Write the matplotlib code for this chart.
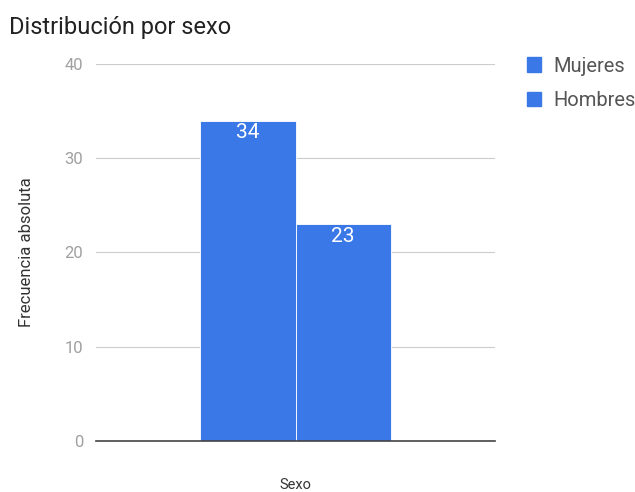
import matplotlib
matplotlib.use("Agg")
import matplotlib.pyplot as plt
from matplotlib.patches import Patch

categories = ["Mujeres", "Hombres"]
counts = [34, 23]
yticks = [0, 10, 20, 30, 40]

blue = "#3b78e7"
plt.rcParams['font.family'] = ['Roboto', 'DejaVu Sans']

fig = plt.figure(figsize=(6.35, 4.92), dpi=100)
ax = fig.add_axes([0.151, 0.1037, 0.629, 0.7663])

width = 0.5
offsets = [-width / 2, width / 2]
for off, val in zip(offsets, counts):
    ax.bar(off, val, width=width, color=blue, edgecolor="white", linewidth=0.6, zorder=3)
    ax.text(off, val - 0.3, str(val), ha="center", va="top", color="white",
            fontsize=15, zorder=4)

ax.set_xlim(-1.05, 1.05)
ax.set_ylim(0, 40)
ax.set_yticks(yticks)
ax.set_yticklabels([str(t) for t in yticks], color="#a0a0a0", fontsize=12)
ax.tick_params(axis="y", length=0, pad=9)
ax.set_xticks([])
ax.grid(axis="y", color="#cccccc", linewidth=0.8, zorder=0)
for s in ["top", "right", "left"]:
    ax.spines[s].set_visible(False)
ax.spines["bottom"].set_color("#444444")
ax.spines["bottom"].set_linewidth(1.2)
ax.spines["bottom"].set_zorder(5)

ax.set_ylabel("Frecuencia absoluta", fontsize=12, color="#333333", labelpad=22)
ax.set_xlabel("Sexo", fontsize=10.5, color="#333333", labelpad=27)

fig.text(0.014, 0.945, "Distribución por sexo", fontsize=17, color="#222222",
         ha="left", va="center")

handles = [Patch(facecolor=blue, edgecolor=blue) for _ in categories]
fig.legend(handles, categories, loc="upper left", bbox_to_anchor=(0.801, 0.922),
           frameon=False, fontsize=14.5, labelcolor="#555555",
           handlelength=0.7, handleheight=0.7, handletextpad=0.6, labelspacing=0.75)

fig.savefig("out.png", dpi=100)
